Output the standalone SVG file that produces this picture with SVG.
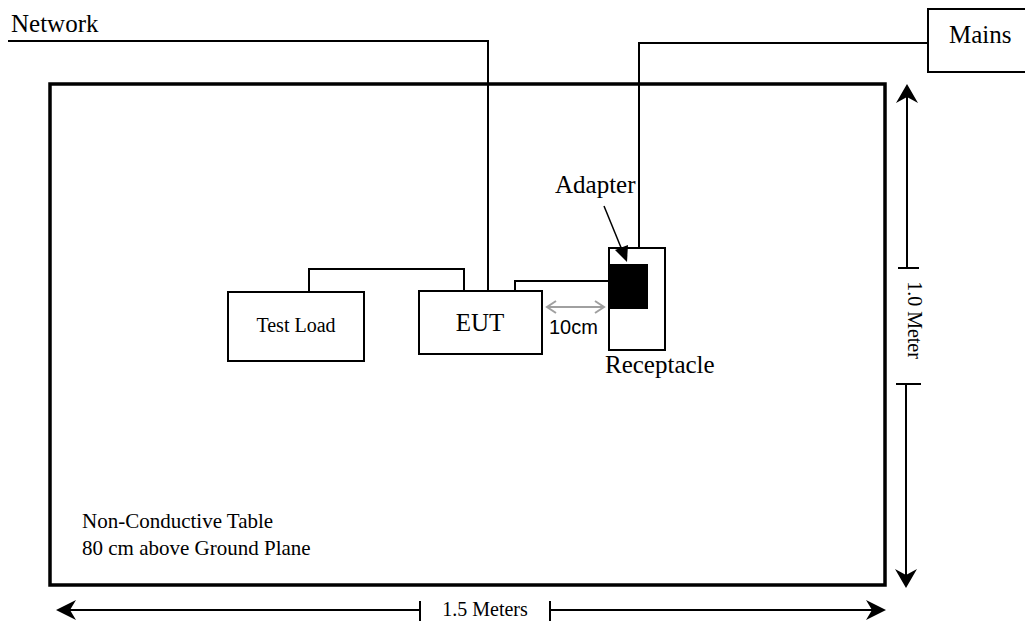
<svg xmlns="http://www.w3.org/2000/svg" width="1025" height="621" viewBox="0 0 1025 621">
<style>
.box{fill:#fff;stroke:#000;stroke-width:2}
.wire{fill:none;stroke:#000;stroke-width:2}
.dim{fill:none;stroke:#000;stroke-width:2}
.t{font-family:"Liberation Serif","Times New Roman",serif;fill:#000}
.big{font-size:25px}
.mid{font-size:20px}
.note{font-size:21px}
.head{fill:#000;stroke:none}
</style>
<rect width="1025" height="621" fill="#fff"/>
<g id="table">
<rect x="50" y="84" width="835" height="501" fill="none" stroke="#000" stroke-width="3.5"/>
<text class="t note" x="82" y="528">Non-Conductive Table</text>
<text class="t note" x="82" y="555">80 cm above Ground Plane</text>
</g>
<g id="connectors">
<polyline class="wire" points="8,41 488,41 488,291"/>
<polyline class="wire" points="928,43 639,43 639,248"/>
<polyline class="wire" points="464,291 464,269 309,269 309,292"/>
<polyline class="wire" points="515,291 515,281 609,281"/>
</g>
<g id="network">
<text class="t big" x="11" y="32">Network</text>
</g>
<g id="mains">
<rect class="box" x="928" y="9" width="100" height="63"/>
<text class="t big" x="949" y="43">Mains</text>
</g>
<g id="test-load">
<rect class="box" x="228" y="292" width="136" height="69"/>
<text class="t mid" x="296" y="332" text-anchor="middle">Test Load</text>
</g>
<g id="eut">
<rect class="box" x="419" y="291" width="123" height="63"/>
<text class="t big" x="480" y="331" text-anchor="middle">EUT</text>
</g>
<g id="receptacle">
<rect class="box" x="609" y="248" width="56" height="102"/>
<text class="t big" x="605" y="373">Receptacle</text>
</g>
<g id="adapter">
<rect x="609" y="264" width="39" height="45" fill="#000"/>
<text class="t big" x="555" y="193">Adapter</text>
<line x1="604" y1="206" x2="622" y2="250" stroke="#000" stroke-width="1.5"/>
<polygon class="head" points="627,262 615,250 628,245"/>
</g>
<g id="gap-10cm">
<line x1="547" y1="307" x2="604" y2="307" stroke="#a0a0a0" stroke-width="2"/>
<polyline points="556,301 547,307 556,313" fill="none" stroke="#a0a0a0" stroke-width="2"/>
<polyline points="595,301 604,307 595,313" fill="none" stroke="#a0a0a0" stroke-width="2"/>
<text x="549" y="334" font-family="Liberation Sans, Arial, sans-serif" font-size="20" fill="#000">10cm</text>
</g>
<g id="dim-height">
<line class="dim" x1="907" y1="92" x2="907" y2="268"/>
<line class="dim" x1="898" y1="268" x2="919" y2="268"/>
<line class="dim" x1="896" y1="384" x2="921" y2="384"/>
<line class="dim" x1="906" y1="384" x2="906" y2="580"/>
<path class="head" d="M907,84 L896,103 L907,97 L918,103 Z"/>
<path class="head" d="M906,588 L895,569 L906,575 L917,569 Z"/>
<text class="t mid" transform="translate(908,320) rotate(90)" text-anchor="middle">1.0 Meter</text>
</g>
<g id="dim-width">
<line class="dim" x1="64" y1="610" x2="420" y2="610"/>
<line class="dim" x1="420" y1="601" x2="420" y2="621"/>
<line class="dim" x1="550" y1="601" x2="550" y2="621"/>
<line class="dim" x1="550" y1="610" x2="878" y2="610"/>
<path class="head" d="M56,610 L76,600 L70,610 L76,620 Z"/>
<path class="head" d="M886,610 L866,600 L872,610 L866,620 Z"/>
<text class="t mid" x="485" y="616" text-anchor="middle">1.5 Meters</text>
</g>
</svg>
